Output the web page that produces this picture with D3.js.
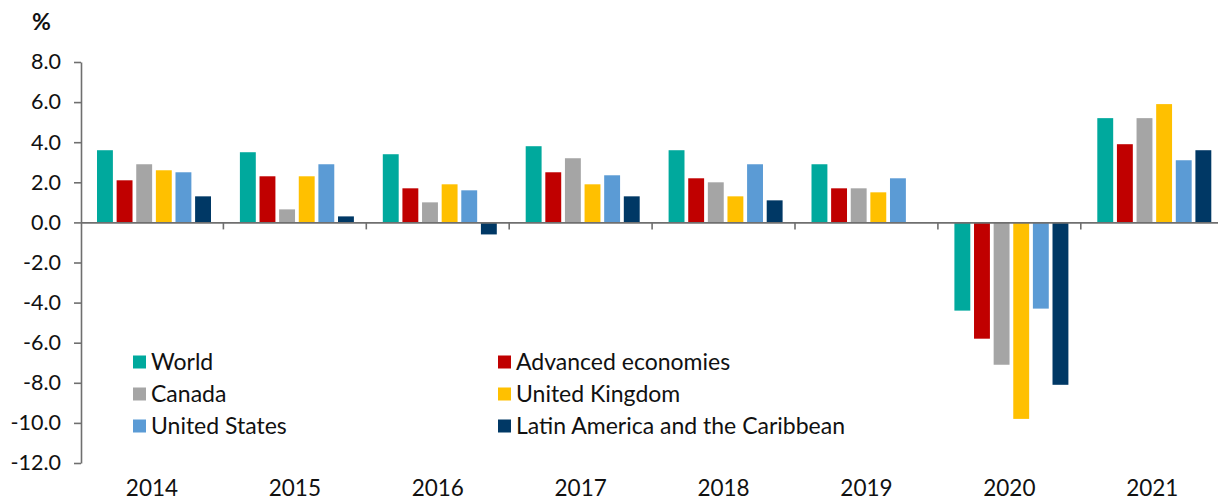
<!DOCTYPE html>
<html><head><meta charset="utf-8">
<script src="https://cdn.jsdelivr.net/npm/d3@7"></script>
<style>
body{margin:0;background:#fff;}
svg text{font-family:Lato,"Open Sans",sans-serif;fill:#111;}
</style></head>
<body><svg id="chart" width="1218" height="502"></svg>
<script>
const years = ["2014","2015","2016","2017","2018","2019","2020","2021"];
const seriesNames = ["World","Advanced economies","Canada","United Kingdom","United States","Latin America and the Caribbean"];
const seriesColors = ["#00A99D","#C00000","#A5A5A5","#FFC000","#5B9BD5","#003865"];
const world     = [3.6, 3.5, 3.4, 3.8, 3.6, 2.9, -4.4, 5.2];
const advanced  = [2.1, 2.3, 1.7, 2.5, 2.2, 1.7, -5.8, 3.9];
const canada    = [2.9, 0.65, 1.0, 3.2, 2.0, 1.7, -7.1, 5.2];
const uk        = [2.6, 2.3, 1.9, 1.9, 1.3, 1.5, -9.8, 5.9];
const us        = [2.5, 2.9, 1.6, 2.35, 2.9, 2.2, -4.3, 3.1];
const latam     = [1.3, 0.3, -0.6, 1.3, 1.1, 0.0, -8.1, 3.6];
const yTicks = [8,6,4,2,0,-2,-4,-6,-8,-10,-12];

const allSeries = [world, advanced, canada, uk, us, latam];
const svg = d3.select("#chart");
const y = d3.scaleLinear().domain([-12, 8]).range([463, 62]);
const x0 = d3.scaleBand().domain(years).range([80.5, 1223.7]);
const x1 = d3.scaleBand().domain(seriesNames).range([16.5, 130.5]).paddingInner(0.19).paddingOuter(0);

const groups = svg.append("g").selectAll("g").data(years).join("g")
  .attr("transform", d => `translate(${x0(d)},0)`);
groups.selectAll("rect").data((d,i) => seriesNames.map((s,j) => ({s, j, v: allSeries[j][i]})))
  .join("rect")
  .attr("x", d => x1(d.s))
  .attr("width", x1.bandwidth())
  .attr("y", d => y(Math.max(0, d.v)))
  .attr("height", d => Math.abs(y(d.v) - y(0)))
  .attr("fill", d => seriesColors[d.j]);

// y axis
const yAxis = svg.append("g").attr("transform", "translate(81,0)")
  .call(d3.axisLeft(y).tickValues(yTicks).tickFormat(d3.format(".1f")).tickSize(7).tickSizeOuter(0));
yAxis.select(".domain").attr("stroke", "#6f6f6f").attr("stroke-width", 1.6);
yAxis.selectAll(".tick line").attr("stroke", "#6f6f6f").attr("stroke-width", 1.6);
yAxis.selectAll(".tick text").attr("x", -20).style("font-size", "21.5px").attr("fill", "#111").text(d => d3.format(".1f")(d).replace("−","-"));

// zero line with category ticks
const zeroAxis = svg.append("g").attr("transform", `translate(0,${y(0)})`)
  .call(d3.axisBottom(x0).tickSize(0).tickFormat(""));
zeroAxis.select(".domain").attr("stroke", "#6f6f6f").attr("stroke-width", 1.6);
const sepTicks = years.slice(1);
svg.append("g").selectAll("line").data(sepTicks).join("line")
  .attr("x1", d => x0(d)).attr("x2", d => x0(d))
  .attr("y1", y(0)).attr("y2", y(0) + 7)
  .attr("stroke", "#6f6f6f").attr("stroke-width", 1.6);

// year labels at bottom
svg.append("g").selectAll("text").data(years).join("text")
  .attr("x", d => x0(d) + x0.bandwidth()/2)
  .attr("y", 496)
  .attr("text-anchor", "middle")
  .style("font-size", "22.5px")
  .text(d => d);

// % label
svg.append("text").attr("x", 32).attr("y", 30).style("font-size", "23px").style("font-weight", "bold").text("%");

// legend
const legendPos = [[133,362],[498,362],[133,394],[498,394],[133,426],[498,426]];
const lg = svg.append("g").selectAll("g").data(seriesNames).join("g")
  .attr("transform", (d,i) => `translate(${legendPos[i][0]},${legendPos[i][1]})`);
lg.append("rect").attr("x", 0).attr("y", -6.5).attr("width", 13).attr("height", 13)
  .attr("fill", (d,i) => seriesColors[i]);
lg.append("text").attr("x", 18).attr("y", 8).style("font-size", "23px").text(d => d);
</script></body></html>
